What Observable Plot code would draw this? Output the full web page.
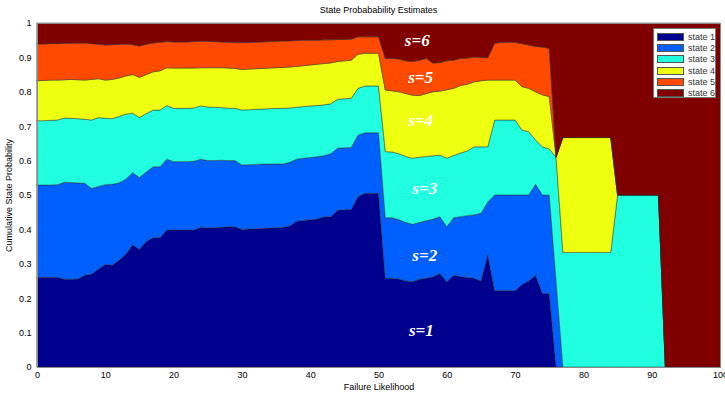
<!DOCTYPE html>
<html><head><meta charset="utf-8">
<script src="https://cdn.jsdelivr.net/npm/d3@7"></script>
<script src="https://cdn.jsdelivr.net/npm/@observablehq/plot@0.6"></script>
<style>
body{margin:0;background:#fff;font-family:"Liberation Sans",Arial,sans-serif;}
#wrap{position:relative;width:725px;height:396px;overflow:hidden;}
#title{height:18px;line-height:20px;font-size:9px;text-align:center;padding-left:32px;color:#000;}
#legend{position:absolute;left:653px;top:28px;width:63px;height:70px;background:#fff;border:1px solid #777;box-sizing:border-box;padding-top:2px;}
.li{height:11.3px;display:flex;align-items:center;font-size:9px;color:#333;}
.sw{width:27px;height:8px;margin-left:3px;margin-right:4px;border:1px solid #555;box-sizing:border-box;}
</style></head><body>
<div id="wrap">
<div id="title">State Probabability Estimates</div>
<div id="chart"></div>
<div id="legend"></div>
</div>
<script>
const xVals = [0,1,2,3,4,5,6,7,8,9,10,11,12,13,14,15,16,17,18,19,20,21,22,23,24,25,26,27,28,29,30,31,32,33,34,35,36,37,38,39,40,41,42,43,44,45,46,47,48,49,50,51,52,53,54,55,56,57,58,59,60,61,62,63,64,65,66,67,68,69,70,71,72,73,74,75,76,77,78,79,80,81,82,83,84,85,86,87,88,89,90,91,92,93,94,95,96,97,98,99,100];

// cumulative probability (top edge of each state) at each failure likelihood
const cum1 = [0.261,0.261,0.261,0.261,0.255,0.255,0.256,0.267,0.27,0.285,
 0.298,0.296,0.31,0.328,0.355,0.342,0.365,0.376,0.376,0.398,
 0.398,0.398,0.398,0.398,0.406,0.404,0.405,0.406,0.408,0.408,
 0.4,0.401,0.402,0.403,0.404,0.405,0.406,0.41,0.424,0.426,
 0.428,0.43,0.437,0.437,0.456,0.457,0.458,0.495,0.505,0.505,
 0.505,0.258,0.258,0.256,0.25,0.248,0.255,0.258,0.262,0.272,
 0.248,0.267,0.263,0.26,0.258,0.25,0.326,0.222,0.222,0.222,
 0.222,0.24,0.25,0.267,0.214,0.214,0,0,0,0,
 0,0,0,0,0,0,0,0,0,0,0,0,0,0,0,0,0,0,0,0,0];
const cum2 = [0.529,0.529,0.529,0.53,0.537,0.536,0.535,0.534,0.519,0.525,
 0.53,0.531,0.535,0.546,0.565,0.551,0.567,0.582,0.582,0.604,
 0.597,0.597,0.597,0.598,0.604,0.6,0.6,0.601,0.6,0.6,
 0.587,0.588,0.589,0.59,0.59,0.59,0.59,0.595,0.604,0.607,
 0.609,0.611,0.614,0.62,0.636,0.637,0.638,0.674,0.681,0.681,
 0.681,0.434,0.434,0.428,0.42,0.415,0.42,0.425,0.43,0.437,
 0.408,0.434,0.437,0.44,0.442,0.447,0.48,0.5,0.5,0.5,
 0.5,0.5,0.5,0.531,0.5,0.5,0.25,0,0,0,
 0,0,0,0,0,0,0,0,0,0,0,0,0,0,0,0,0,0,0,0,0];
const cum3 = [0.716,0.716,0.717,0.718,0.724,0.723,0.722,0.72,0.718,0.725,
 0.723,0.722,0.728,0.735,0.738,0.725,0.737,0.747,0.747,0.76,
 0.752,0.752,0.752,0.753,0.759,0.756,0.755,0.754,0.752,0.752,
 0.747,0.748,0.749,0.75,0.751,0.752,0.752,0.753,0.755,0.757,
 0.759,0.76,0.762,0.765,0.778,0.78,0.781,0.81,0.817,0.817,
 0.817,0.626,0.625,0.62,0.612,0.607,0.61,0.612,0.614,0.616,
 0.607,0.615,0.622,0.628,0.64,0.64,0.64,0.718,0.718,0.718,
 0.718,0.689,0.684,0.66,0.64,0.634,0.61,0.333,0.333,0.333,
 0.333,0.333,0.333,0.333,0.333,0.5,0.5,0.5,0.5,0.5,
 0.5,0.5,0,0,0,0,0,0,0,0,0];
const cum4 = [0.832,0.833,0.834,0.834,0.835,0.836,0.835,0.834,0.836,0.838,
 0.834,0.836,0.84,0.846,0.85,0.842,0.85,0.858,0.861,0.87,
 0.869,0.869,0.869,0.869,0.87,0.87,0.87,0.87,0.869,0.868,
 0.865,0.866,0.867,0.868,0.869,0.87,0.871,0.872,0.874,0.876,
 0.878,0.88,0.882,0.884,0.888,0.89,0.892,0.909,0.912,0.912,
 0.912,0.805,0.803,0.8,0.795,0.79,0.789,0.795,0.8,0.802,
 0.806,0.81,0.818,0.822,0.829,0.832,0.834,0.834,0.834,0.834,
 0.834,0.815,0.81,0.8,0.791,0.786,0.61,0.667,0.667,0.667,
 0.667,0.667,0.667,0.667,0.667,0.5,0.5,0.5,0.5,0.5,
 0.5,0.5,0,0,0,0,0,0,0,0,0];
const cum5 = [0.939,0.939,0.94,0.94,0.941,0.941,0.942,0.942,0.94,0.938,
 0.936,0.937,0.938,0.939,0.937,0.933,0.938,0.942,0.944,0.946,
 0.945,0.945,0.945,0.946,0.947,0.947,0.946,0.945,0.944,0.943,
 0.943,0.943,0.944,0.945,0.946,0.947,0.948,0.948,0.949,0.95,
 0.95,0.95,0.951,0.951,0.952,0.952,0.953,0.96,0.96,0.96,
 0.96,0.897,0.897,0.895,0.89,0.888,0.892,0.897,0.883,0.885,
 0.89,0.892,0.897,0.898,0.901,0.9,0.899,0.941,0.943,0.944,
 0.944,0.94,0.936,0.932,0.93,0.926,0.61,0.667,0.667,0.667,
 0.667,0.667,0.667,0.667,0.667,0.5,0.5,0.5,0.5,0.5,
 0.5,0.5,0,0,0,0,0,0,0,0,0];

const states = ["state 1","state 2","state 3","state 4","state 5","state 6"];
const stateColors = ["#00008f","#0060ff","#20ffdf","#efff10","#ff4a00","#800000"];
const xTicks = [0,10,20,30,40,50,60,70,80,90,100];
const yTicks = [0,0.1,0.2,0.3,0.4,0.5,0.6,0.7,0.8,0.9,1];
const stateLabels = ["s=1","s=2","s=3","s=4","s=5","s=6"];
const labelX = [56.2,56.7,56.7,56.1,56.1,55.6];
const labelY = [0.108,0.326,0.519,0.718,0.844,0.951];

const edges = [null, cum1, cum2, cum3, cum4, cum5, null];
const rows = [];
states.forEach((s, k) => {
  xVals.forEach((x, i) => {
    const lo = k === 0 ? 0 : edges[k][i];
    const hi = k === 5 ? 1 : edges[k + 1][i];
    rows.push({x, y1: lo, y2: hi, state: s});
  });
});
const labels = stateLabels.map((t, i) => ({t, x: labelX[i], y: labelY[i]}));

const chart = Plot.plot({
  width: 725, height: 378,
  marginLeft: 37, marginRight: 5, marginTop: 5, marginBottom: 29,
  style: {fontFamily: "'Liberation Sans', Arial, sans-serif", fontSize: "9px", background: "#fff", overflow: "visible"},
  x: {domain: [0, 100]},
  y: {domain: [0, 1]},
  color: {domain: states, range: stateColors},
  marks: [
    Plot.areaY(rows, {x: "x", y1: "y1", y2: "y2", fill: "state", z: "state", stroke: "#262626", strokeWidth: 0.6, strokeOpacity: 0.75, curve: "linear"}),
    Plot.text(labels, {x: "x", y: "y", text: "t", fill: "#fff", fontFamily: "'Liberation Serif', 'Times New Roman', serif", fontStyle: "italic", fontWeight: "bold", fontSize: 17, textAnchor: "middle"}),
    Plot.frame({stroke: "#8a8a8a", strokeWidth: 1}),
    Plot.axisX({ticks: xTicks, tickFormat: d => String(d), tickSize: 0, tickPadding: 4, label: "Failure Likelihood", labelAnchor: "center", labelArrow: "none", labelOffset: 22}),
    Plot.axisY({ticks: yTicks, tickFormat: d => String(d), tickSize: 0, tickPadding: 6, label: "Cumulative State Probability", labelAnchor: "center", labelArrow: "none", labelOffset: 32})
  ]
});
document.getElementById("chart").appendChild(chart);

const leg = document.getElementById("legend");
states.forEach((s, i) => {
  const row = document.createElement("div");
  row.className = "li";
  const sw = document.createElement("span");
  sw.className = "sw";
  sw.style.background = stateColors[i];
  const tx = document.createElement("span");
  tx.textContent = s;
  row.appendChild(sw); row.appendChild(tx);
  leg.appendChild(row);
});
</script>
</body></html>
